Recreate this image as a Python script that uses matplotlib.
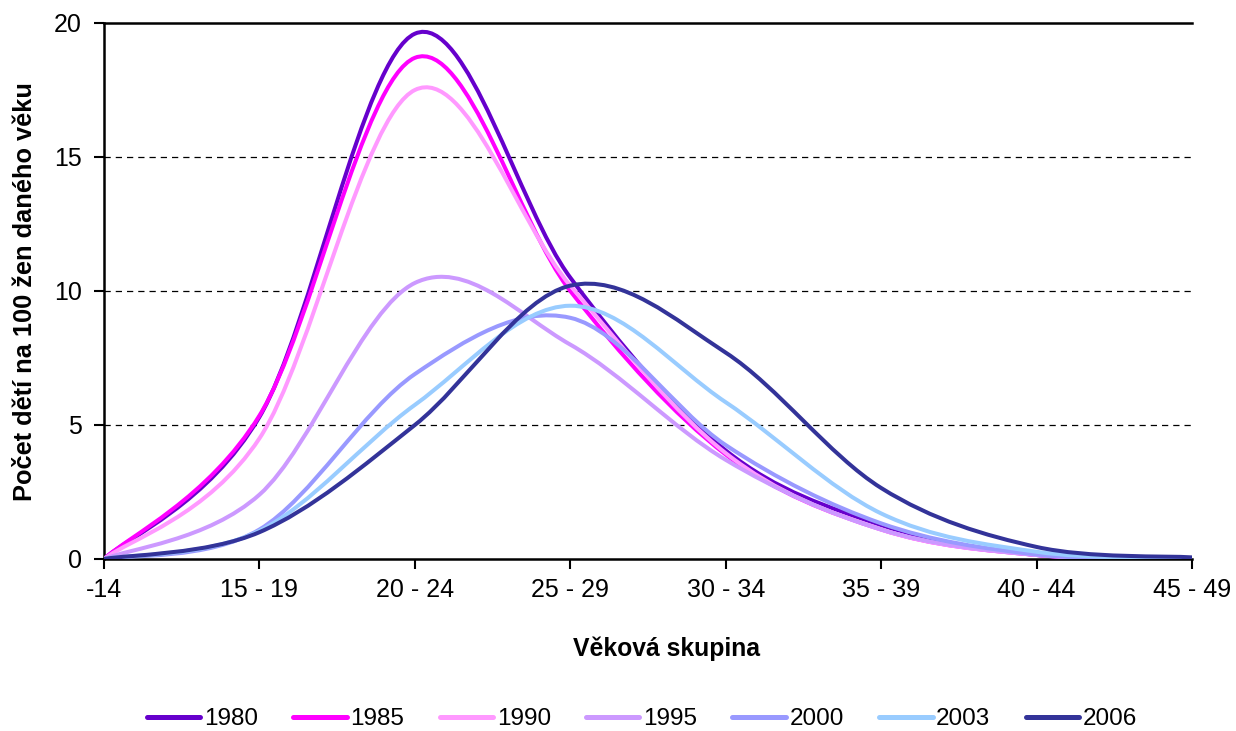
import matplotlib
matplotlib.use("Agg")
import matplotlib.pyplot as plt
from matplotlib.path import Path
from matplotlib.patches import PathPatch
from matplotlib.lines import Line2D
import numpy as np

plt.rcParams['font.family'] = ['Liberation Sans', 'DejaVu Sans']

categories = ["-14", "15 - 19", "20 - 24", "25 - 29", "30 - 34", "35 - 39", "40 - 44", "45 - 49"]
years = ["1980", "1985", "1990", "1995", "2000", "2003", "2006"]

v1980 = [0.0, 5.3, 19.6, 10.5, 4.05, 1.27, 0.15, 0.02]
v1985 = [0.0, 5.35, 18.7, 10.0, 3.9, 1.1, 0.15, 0.02]
v1990 = [0.0, 4.5, 17.5, 10.2, 3.95, 1.1, 0.15, 0.02]
v1995 = [0.0, 2.4, 10.3, 8.0, 3.7, 1.1, 0.15, 0.02]
v2000 = [0.0, 1.1, 6.9, 9.0, 4.25, 1.33, 0.17, 0.02]
v2003 = [0.0, 1.05, 5.75, 9.45, 5.85, 1.7, 0.27, 0.03]
v2006 = [0.0, 1.0, 5.0, 10.2, 7.7, 2.65, 0.45, 0.06]

series = [v1980, v1985, v1990, v1995, v2000, v2003, v2006]
colors = ["#6600CC", "#FF00FF", "#FF99FF", "#CC99FF", "#9999FF", "#99CCFF", "#333399"]

W, H = 1236, 731
fig = plt.figure(figsize=(W / 100, H / 100), dpi=100)
ax = fig.add_axes([104 / W, 1 - 559 / H, (1192 - 104) / W, (559 - 23) / H])


def smooth_path(xs, ys):
    pts = np.column_stack([xs, ys]).astype(float)
    n = len(pts)
    verts = [pts[0]]
    codes = [Path.MOVETO]
    for i in range(n - 1):
        p0 = pts[i - 1] if i > 0 else pts[i]
        p1 = pts[i]
        p2 = pts[i + 1]
        p3 = pts[i + 2] if i + 2 < n else pts[i + 1]
        c1 = p1 + (p2 - p0) / 6.0
        c2 = p2 - (p3 - p1) / 6.0
        verts += [c1, c2, p2]
        codes += [Path.CURVE4] * 3
    return Path(verts, codes)


xs = np.arange(len(categories))
handles = []
for vals, col, yr in zip(series, colors, years):
    p = smooth_path(xs, vals)
    ax.add_patch(PathPatch(p, fill=False, edgecolor=col, lw=2.9, capstyle='round',
                           joinstyle='round', zorder=3))
    handles.append(Line2D([0], [0], color=col, lw=3.6, solid_capstyle='round', label=yr))

ax.set_xlim(0, len(categories) - 1)
ax.set_ylim(0, 20)
ax.set_xticks(xs)
ax.set_xticklabels(categories, fontsize=18)
ax.set_yticks([0, 5, 10, 15, 20])
ax.set_yticklabels(["0", "5", "10", "15", "20"], fontsize=18)
for yv in [5, 10, 15]:
    ax.axhline(yv, color='black', lw=0.9, ls=(0, (5, 4)), zorder=1)

ax.spines['right'].set_visible(False)
for s in ['left', 'bottom', 'top']:
    ax.spines[s].set_linewidth(1.8)
    ax.spines[s].set_color('black')
ax.tick_params(axis='both', direction='out', length=7, width=1.5, colors='black')
ax.tick_params(axis='x', pad=7)
ax.tick_params(axis='y', pad=9)

fig.text(667 / W, 1 - 649 / H, "Věková skupina", fontsize=17.8, fontweight='bold',
         ha='center', va='center')
fig.text(25 / W, 1 - 292 / H, "Počet dětí na 100 žen daného věku", fontsize=18.3,
         fontweight='bold', rotation=90, ha='center', va='center')

fig.legend(handles=handles, loc='center', bbox_to_anchor=(642 / W, 1 - 719 / H), ncol=7,
           frameon=False, fontsize=17.5, handlelength=2.2, handletextpad=0.15,
           columnspacing=1.45, borderpad=0, borderaxespad=0)

fig.savefig("out.png", dpi=100)
